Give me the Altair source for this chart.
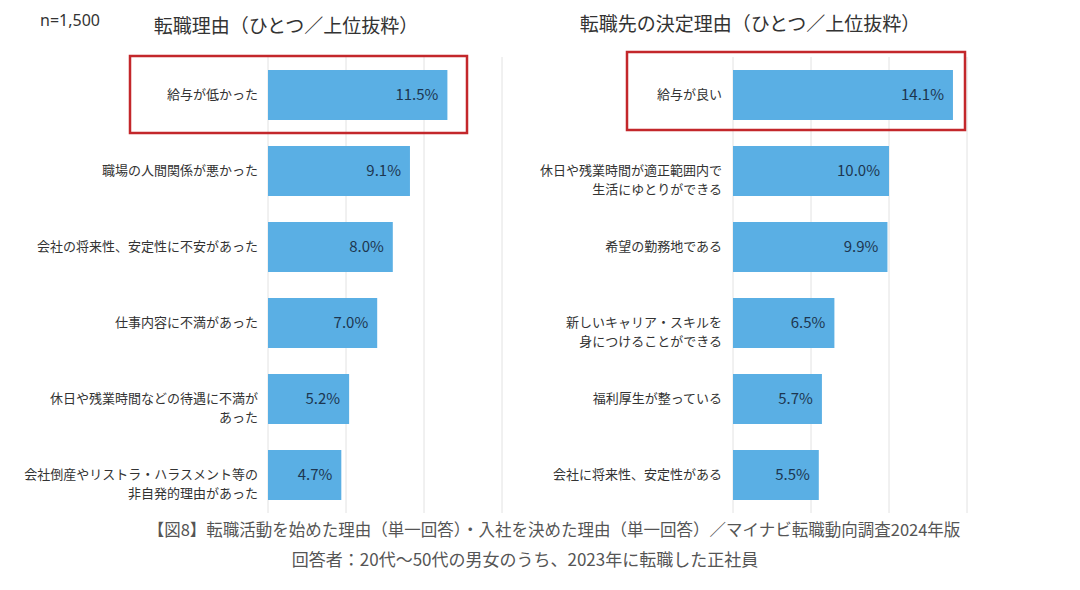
import altair as alt
import pandas as pd

FONT = "Noto Sans CJK JP"

n_label = "n=1,500"
left_title = "転職理由（ひとつ／上位抜粋）"
right_title = "転職先の決定理由（ひとつ／上位抜粋）"

left_labels = [
    "給与が低かった",
    "職場の人間関係が悪かった",
    "会社の将来性、安定性に不安があった",
    "仕事内容に不満があった",
    "休日や残業時間などの待遇に不満が\nあった",
    "会社倒産やリストラ・ハラスメント等の\n非自発的理由があった",
]
left_values = [11.5, 9.1, 8.0, 7.0, 5.2, 4.7]

right_labels = [
    "給与が良い",
    "休日や残業時間が適正範囲内で\n生活にゆとりができる",
    "希望の勤務地である",
    "新しいキャリア・スキルを\n身につけることができる",
    "福利厚生が整っている",
    "会社に将来性、安定性がある",
]
right_values = [14.1, 10.0, 9.9, 6.5, 5.7, 5.5]

grid_ticks = [0, 5, 10, 15]

caption_1 = "【図8】転職活動を始めた理由（単一回答）・入社を決めた理由（単一回答）／マイナビ転職動向調査2024年版"
caption_2 = "回答者：20代～50代の男女のうち、2023年に転職した正社員"

BAR = "#5aafe4"
RED = "#c3272b"
TXT = "#333333"

Y_RANGE = [49, 505]


def panel(labels, values, x_range, label_x, title, title_x, title_y, box):
    df = pd.DataFrame({
        "rank": list(range(len(labels))),
        "label": labels,
        "value": values,
        "pct": [f"{v:.1f}%" for v in values],
    })
    grid_df = pd.DataFrame({"tick": grid_ticks})
    one = pd.DataFrame({"t": [title]})

    xs = alt.Scale(domain=[0, 15], range=x_range, nice=False, zero=True)
    ys = alt.Scale(range=Y_RANGE, paddingInner=0.34, paddingOuter=0.17)
    y = alt.Y("rank:O", scale=ys, axis=None)

    grid = alt.Chart(grid_df).mark_rule(color="#e2e2e2", strokeWidth=1).encode(
        x=alt.X("tick:Q", scale=xs, axis=None),
        y=alt.value(Y_RANGE[0]),
        y2=alt.value(Y_RANGE[1]),
    )
    bars = alt.Chart(df).mark_bar(color=BAR).encode(
        x=alt.X("value:Q", scale=xs, axis=None), y=y
    )
    vals = alt.Chart(df).mark_text(
        align="right", baseline="middle", dx=-9, fontSize=15, font=FONT, color="#1d3650"
    ).encode(x=alt.X("value:Q", scale=xs, axis=None), y=y, text="pct:N")
    labs = alt.Chart(df).mark_text(
        align="right", baseline="middle", lineBreak="\n", fontSize=13, font=FONT,
        color=TXT, lineHeight=19
    ).encode(x=alt.value(label_x), y=y, text="label:N")
    ttl = alt.Chart(one).mark_text(
        align="center", baseline="middle", fontSize=19, font=FONT, color=TXT
    ).encode(x=alt.value(title_x), y=alt.value(title_y), text="t:N")
    rect = alt.Chart(one).mark_rect(filled=False, stroke=RED, strokeWidth=2.5).encode(
        x=alt.value(box[0]), x2=alt.value(box[1]), y=alt.value(box[2]), y2=alt.value(box[3])
    )
    return alt.layer(grid, bars, vals, labs, ttl, rect)


left = panel(left_labels, left_values, [260, 494], 250, left_title, 278, 19, (122, 459, 48, 125))
right = panel(right_labels, right_values, [725, 959], 714, right_title, 742, 17, (619, 957, 44, 122))

extra = pd.DataFrame({"n": [n_label], "c1": [caption_1], "c2": [caption_2]})
n_txt = alt.Chart(extra).mark_text(
    align="left", baseline="middle", fontSize=16, font="Noto Sans", color=TXT
).encode(x=alt.value(32), y=alt.value(13), text="n:N")
cap1 = alt.Chart(extra).mark_text(
    align="center", baseline="middle", fontSize=16.5, font=FONT, color="#555555"
).encode(x=alt.value(546), y=alt.value(523), text="c1:N")
cap2 = alt.Chart(extra).mark_text(
    align="center", baseline="middle", fontSize=17, font=FONT, color="#555555"
).encode(x=alt.value(517), y=alt.value(553), text="c2:N")

chart = alt.layer(left, right, n_txt, cap1, cap2).resolve_scale(
    x="independent"
).properties(
    width=1064, height=574, autosize="none", padding=0, background="white"
).configure_view(stroke=None)

chart.save("out.html", embed_options={"renderer": "svg", "actions": False})
